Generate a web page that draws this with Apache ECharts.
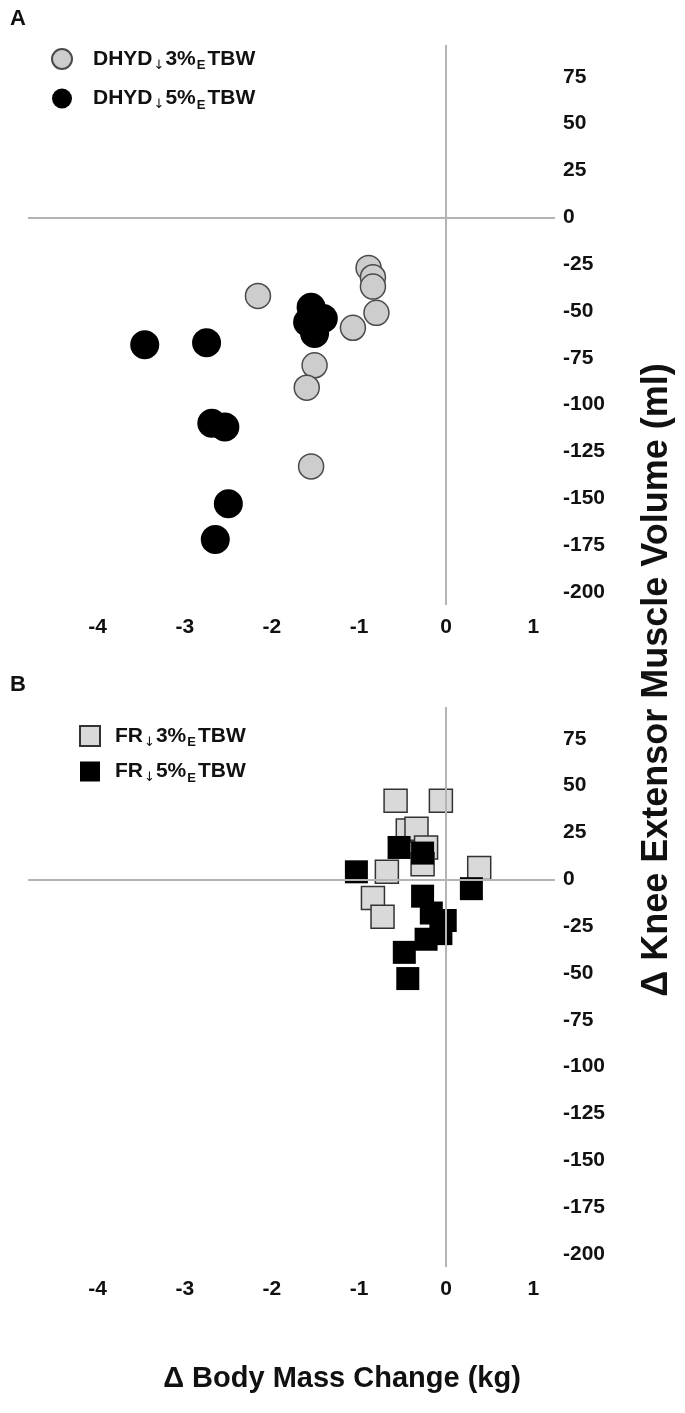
<!DOCTYPE html>
<html>
<head>
<meta charset="utf-8">
<script src="https://cdn.jsdelivr.net/npm/echarts@6/dist/echarts.min.js"></script>
<style>
html,body{margin:0;padding:0;background:#fff;}
#c{width:685px;height:1413px;}
</style>
</head>
<body>
<div id="c"></div>
<script>
// ---- data ----
const xTicks = [-4, -3, -2, -1, 0, 1];
const yTicks = [75, 50, 25, 0, -25, -50, -75, -100, -125, -150, -175, -200];

const seriesNames = ['DHYD↓3%ETBW', 'DHYD↓5%ETBW', 'FR↓3%ETBW', 'FR↓5%ETBW'];

// Panel A: dehydration (x: body mass change kg, y: muscle volume change ml)
const dhyd3 = [
  [-2.16, -42], [-0.89, -27], [-0.84, -32], [-0.84, -37], [-0.80, -51],
  [-1.07, -59], [-1.51, -79], [-1.60, -91], [-1.55, -133]
];
const dhyd5 = [
  [-1.55, -48], [-1.59, -56], [-1.41, -54], [-1.51, -62], [-1.49, -55],
  [-3.46, -68], [-2.75, -67], [-2.69, -110], [-2.54, -112], [-2.50, -153], [-2.65, -172]
];

// Panel B: food restriction
const fr3 = [
  [-0.58, 42], [-0.06, 42], [-0.44, 26], [-0.34, 27], [-0.23, 17],
  [-0.27, 8], [0.38, 6], [-0.68, 4], [-0.84, -10], [-0.73, -20]
];
const fr5 = [
  [-1.03, 4], [-0.54, 17], [-0.27, 14], [0.29, -5], [-0.27, -9],
  [-0.17, -18], [-0.01, -22], [-0.06, -29], [-0.23, -32], [-0.48, -39], [-0.44, -53]
];

// ---- chart ----
const FONT = '"Liberation Sans", Arial, sans-serif';
const chart = echarts.init(document.getElementById('c'), null, {renderer: 'canvas'});

function makeRich(pad) {
  return {
    b: {fontFamily: FONT, fontSize: 21, fontWeight: 'bold', color: '#111', lineHeight: 26},
    p: {fontFamily: FONT, fontSize: 21, fontWeight: 'bold', color: '#111', lineHeight: 26, padding: [0, 0, 0, pad]},
    s: {fontFamily: '"DejaVu Sans", sans-serif', fontSize: 13, color: '#111', lineHeight: 26, verticalAlign: 'bottom', padding: [0, 1, 0, 1]},
    e: {fontFamily: FONT, fontSize: 13, fontWeight: 'bold', color: '#111', lineHeight: 26, verticalAlign: 'bottom', padding: [0, 2, 0, 1]}
  };
}
function legendFmt(name) {
  const m = name.match(/^(\w+)↓(\d%)E(TBW)$/);
  return '{p|' + m[1] + '}{s|↓}{b|' + m[2] + '}{e|E}{b|' + m[3] + '}';
}

function xAxisCfg(gi) {
  return {
    gridIndex: gi, type: 'value', min: -4.8, max: 1.25,
    axisLine: {show: false}, axisTick: {show: false}, splitLine: {show: false},
    axisLabel: {customValues: xTicks, fontFamily: FONT, fontSize: 21, fontWeight: 'bold', color: '#111', margin: 12}
  };
}
function yAxisCfg(gi) {
  return {
    gridIndex: gi, type: 'value', position: 'right', min: -207, max: 92,
    axisLine: {show: false}, axisTick: {show: false}, splitLine: {show: false},
    axisLabel: {customValues: yTicks, fontFamily: FONT, fontSize: 21, fontWeight: 'bold', color: '#111', margin: 8, align: 'left'}
  };
}
function zeroLines() {
  return {
    silent: true, symbol: 'none', label: {show: false},
    lineStyle: {color: '#b4b4b4', width: 2, type: 'solid'},
    emphasis: {disabled: true},
    data: [{xAxis: 0}, {yAxis: 0}]
  };
}

const option = {
  animation: false,
  backgroundColor: '#fff',
  grid: [
    {left: 28, top: 45, width: 527, height: 560},
    {left: 28, top: 707, width: 527, height: 560}
  ],
  xAxis: [xAxisCfg(0), xAxisCfg(1)],
  yAxis: [yAxisCfg(0), yAxisCfg(1)],
  legend: [
    {
      data: [seriesNames[0], seriesNames[1]], orient: 'vertical', left: 46, top: 43,
      itemWidth: 20, itemHeight: 20, itemGap: 16, icon: 'circle',
      formatter: legendFmt, textStyle: {rich: makeRich(16)}, selectedMode: false
    },
    {
      data: [seriesNames[2], seriesNames[3]], orient: 'vertical', left: 74, top: 720,
      itemWidth: 20, itemHeight: 20, itemGap: 12, icon: 'rect',
      formatter: legendFmt, textStyle: {rich: makeRich(10)}, selectedMode: false
    }
  ],
  graphic: [
    {type: 'text', left: 10, top: 8, style: {text: 'A', font: 'bold 22px ' + FONT, fill: '#111'}},
    {type: 'text', left: 10, top: 674, style: {text: 'B', font: 'bold 22px ' + FONT, fill: '#111'}},
    {type: 'text', x: 342, y: 1379, style: {text: 'Δ Body Mass Change (kg)', font: 'bold 29px ' + FONT, fill: '#111', align: 'center', verticalAlign: 'middle'}},
    {type: 'text', x: 657, y: 680, rotation: Math.PI / 2, style: {text: 'Δ Knee Extensor Muscle Volume (ml)', font: 'bold 36px ' + FONT, fill: '#111', align: 'center', verticalAlign: 'middle'}}
  ],
  series: [
    {
      name: seriesNames[0], type: 'scatter', xAxisIndex: 0, yAxisIndex: 0, data: dhyd3,
      symbol: 'circle', symbolSize: 25,
      itemStyle: {color: '#cdcdcd', borderColor: '#4a4a4a', borderWidth: 1.5, opacity: 1},
      markLine: zeroLines(), z: 2
    },
    {
      name: seriesNames[1], type: 'scatter', xAxisIndex: 0, yAxisIndex: 0, data: dhyd5,
      symbol: 'circle', symbolSize: 29,
      itemStyle: {color: '#000', borderColor: '#000', borderWidth: 0, opacity: 1}, z: 3
    },
    {
      name: seriesNames[2], type: 'scatter', xAxisIndex: 1, yAxisIndex: 1, data: fr3,
      symbol: 'rect', symbolSize: 23,
      itemStyle: {color: '#d9d9d9', borderColor: '#333', borderWidth: 1.5, opacity: 1},
      markLine: zeroLines(), z: 2
    },
    {
      name: seriesNames[3], type: 'scatter', xAxisIndex: 1, yAxisIndex: 1, data: fr5,
      symbol: 'rect', symbolSize: 23,
      itemStyle: {color: '#000', borderColor: '#000', borderWidth: 0, opacity: 1}, z: 3
    }
  ]
};
chart.setOption(option);
</script>
</body>
</html>
